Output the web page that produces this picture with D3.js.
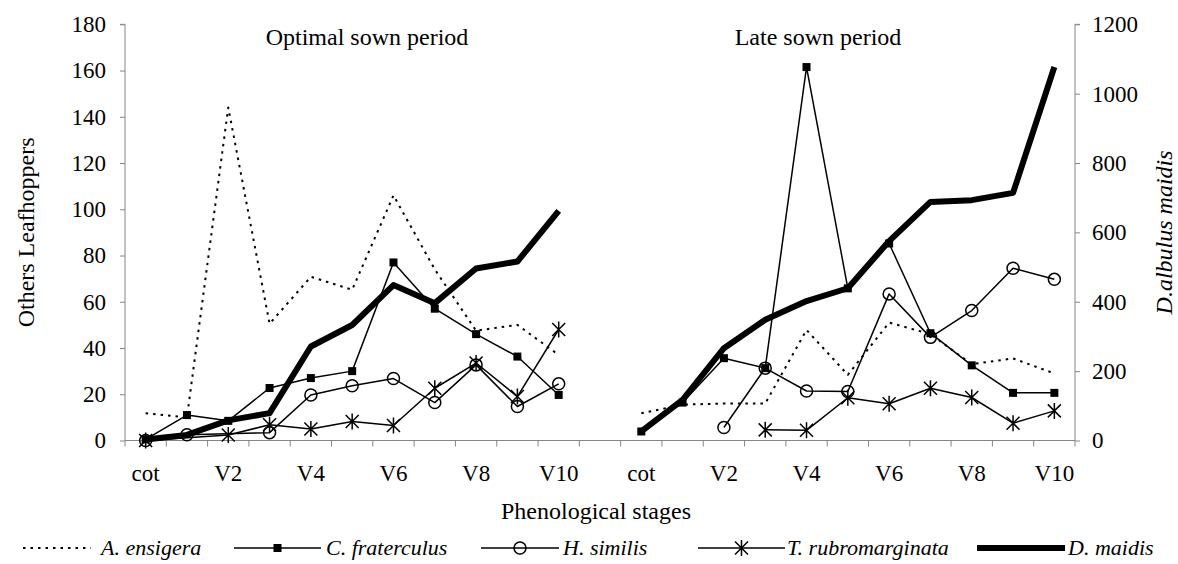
<!DOCTYPE html>
<html>
<head>
<meta charset="utf-8">
<script src="https://cdn.jsdelivr.net/npm/d3@7"></script>
<style>
  body { margin: 0; background: #fff; }
  svg text { font-family: "Liberation Serif", "Times New Roman", serif; fill: #000; }
</style>
</head>
<body>
<div id="chart"></div>
<script>
// phenological stages, same for both sowing periods
var stages = ["cot", "V1", "V2", "V3", "V4", "V5", "V6", "V7", "V8", "V9", "V10"];
var leftTicks = [0, 20, 40, 60, 80, 100, 120, 140, 160, 180];
var rightTicks = [0, 200, 400, 600, 800, 1000, 1200];

// Optimal sown period (others on left axis, D. maidis on right axis)
var ensigeraOpt = [11.8, 10, 144, 50.5, 70.8, 65.2, 106, 74, 47.5, 50, 37];
var fraterculusOpt = [0.5, 11, 8.5, 22.7, 27, 30, 77, 57, 46, 36.3, 19.7];
var similisOpt = [0, 2.5, null, 3.4, 19.7, 23.7, 26.8, 16.4, 32.7, 14.7, 24.5];
var rubroOpt = [0, null, 2.4, 6.8, 5, 8.2, 6.5, 22.6, 33.5, 19, 48];
var maidisOpt = [3, 16, 58, 79, 271, 333, 448, 396, 496, 516, 662];

// Late sown period
var ensigeraLate = [11.8, 15.5, 16, 16, 47.8, 28.4, 51, 46, 33, 35.5, 29];
var fraterculusLate = [3.9, 16.4, 35.6, 31.3, 161.5, 65.8, 85.2, 46.4, 32.5, 20.6, 20.6];
var similisLate = [null, null, 5.6, 31.3, 21.4, 21.2, 63.4, 44.6, 56.2, 74.5, 69.7];
var rubroLate = [null, null, null, 4.6, 4.4, 18.5, 15.9, 22.6, 18.6, 7.5, 12.8];
var maidisLate = [26, 117, 266, 348, 402, 439, 575, 688, 693, 714, 1077];

var width = 1178, height = 564;
var margin = {top: 24.3, left: 125, right: 103, bottom: 123.5};

var keys = stages.map(function(s) { return "opt-" + s; })
  .concat(["gap"])
  .concat(stages.map(function(s) { return "late-" + s; }));

var x = d3.scaleBand().domain(keys).range([margin.left, width - margin.right]);
var yL = d3.scaleLinear().domain([0, 180]).range([height - margin.bottom, margin.top]);
var yR = d3.scaleLinear().domain([0, 1200]).range([height - margin.bottom, margin.top]);

var series = [
  {name: "A. ensigera", opt: ensigeraOpt, late: ensigeraLate, axis: "L", marker: null, width: 2, dash: "2.5,5"},
  {name: "C. fraterculus", opt: fraterculusOpt, late: fraterculusLate, axis: "L", marker: "square", width: 1.5},
  {name: "H. similis", opt: similisOpt, late: similisLate, axis: "L", marker: "circle", width: 1.5},
  {name: "T. rubromarginata", opt: rubroOpt, late: rubroLate, axis: "L", marker: "star", width: 1.5},
  {name: "D. maidis", opt: maidisOpt, late: maidisLate, axis: "R", marker: null, width: 6}
];

var svg = d3.select("#chart").append("svg")
  .attr("width", width)
  .attr("height", height);

var axisColor = "#868686";

// Left axis
var gL = svg.append("g")
  .attr("transform", "translate(" + margin.left + ",0)")
  .call(d3.axisLeft(yL).tickValues(leftTicks).tickSize(5).tickPadding(14).tickFormat(d3.format("d")));
// Right axis
var gR = svg.append("g")
  .attr("transform", "translate(" + (width - margin.right) + ",0)")
  .call(d3.axisRight(yR).tickValues(rightTicks).tickSize(5).tickPadding(12).tickFormat(d3.format("d")));

[gL, gR].forEach(function(g) {
  g.attr("font-family", null).attr("font-size", null);
  g.select(".domain").attr("stroke", axisColor).attr("d", function() {
    return "M0," + yL(0) + "V" + yL(180) + (g === gL ? "h-5" : "h5");
  });
  g.selectAll(".tick line").attr("stroke", axisColor);
  g.selectAll(".tick text").attr("font-size", 23);
});

// X axis: boundary ticks between stages, labels every other stage
var xg = svg.append("g");
xg.append("line")
  .attr("x1", x.range()[0]).attr("x2", x.range()[1])
  .attr("y1", yL(0)).attr("y2", yL(0))
  .attr("stroke", axisColor);
var bounds = keys.map(function(k) { return x(k); }).concat([x.range()[1]]);
xg.selectAll(".xt").data(bounds).enter().append("line")
  .attr("x1", function(d) { return d; }).attr("x2", function(d) { return d; })
  .attr("y1", yL(0)).attr("y2", yL(0) + 6)
  .attr("stroke", axisColor);
xg.selectAll(".xl").data(keys.filter(function(k, i) { return k !== "gap" && i % 2 === 0; }))
  .enter().append("text")
  .attr("x", function(d) { return x(d) + x.bandwidth() / 2; })
  .attr("y", 481)
  .attr("text-anchor", "middle")
  .attr("font-size", 23)
  .text(function(d) { return d.split("-")[1]; });

// Axis titles
svg.append("text")
  .attr("transform", "translate(26," + ((yL(0) + yL(180)) / 2) + ") rotate(-90)")
  .attr("text-anchor", "middle")
  .attr("dy", "0.35em")
  .attr("font-size", 24)
  .text("Others Leafhoppers");
svg.append("text")
  .attr("transform", "translate(1164," + ((yL(0) + yL(180)) / 2) + ") rotate(-90)")
  .attr("text-anchor", "middle")
  .attr("dy", "0.35em")
  .attr("font-size", 24)
  .attr("font-style", "italic")
  .text("D.albulus maidis");
svg.append("text")
  .attr("x", 596).attr("y", 519)
  .attr("text-anchor", "middle")
  .attr("font-size", 24)
  .text("Phenological stages");

// Period titles
svg.append("text").attr("x", 367).attr("y", 45)
  .attr("text-anchor", "middle").attr("font-size", 24).text("Optimal sown period");
svg.append("text").attr("x", 818).attr("y", 45)
  .attr("text-anchor", "middle").attr("font-size", 24).text("Late sown period");

function starPath(r) {
  return "M" + (-r) + "," + (-r) + "L" + r + "," + r +
    "M" + (-r) + "," + r + "L" + r + "," + (-r) +
    "M0," + (-r - 1.5) + "L0," + (r + 1.5);
}

function drawMarker(g, type, cx, cy) {
  if (type === "square") {
    g.append("rect").attr("x", cx - 4).attr("y", cy - 4)
      .attr("width", 8).attr("height", 8).attr("fill", "#000");
  } else if (type === "circle") {
    g.append("circle").attr("cx", cx).attr("cy", cy).attr("r", 6)
      .attr("fill", "none").attr("stroke", "#000").attr("stroke-width", 1.5);
  } else if (type === "star") {
    g.append("path").attr("transform", "translate(" + cx + "," + cy + ")")
      .attr("d", starPath(6.5)).attr("fill", "none")
      .attr("stroke", "#000").attr("stroke-width", 1.5);
  }
}

var plot = svg.append("g");
series.forEach(function(s) {
  var y = s.axis === "L" ? yL : yR;
  var line = d3.line()
    .x(function(d) { return x(d.k) + x.bandwidth() / 2; })
    .y(function(d) { return y(d.v); });
  ["opt", "late"].forEach(function(p) {
    var pts = s[p].map(function(v, i) { return {k: p + "-" + stages[i], v: v}; })
      .filter(function(d) { return d.v !== null; });
    plot.append("path")
      .attr("d", line(pts))
      .attr("fill", "none")
      .attr("stroke", "#000")
      .attr("stroke-width", s.width)
      .attr("stroke-linejoin", "round")
      .attr("stroke-dasharray", s.dash || null);
    if (s.marker) {
      pts.forEach(function(d) {
        drawMarker(plot, s.marker, x(d.k) + x.bandwidth() / 2, y(d.v));
      });
    }
  });
});

// Legend
var legendPos = [
  {x0: 23, x1: 91, tx: 101},
  {x0: 234, x1: 321, tx: 326},
  {x0: 481, x1: 559, tx: 563},
  {x0: 698, x1: 785, tx: 787},
  {x0: 977, x1: 1065, tx: 1068}
];
var ly = 548;
var lg = svg.append("g");
series.forEach(function(s, i) {
  var p = legendPos[i];
  lg.append("line")
    .attr("x1", p.x0).attr("x2", p.x1).attr("y1", ly).attr("y2", ly)
    .attr("stroke", "#000").attr("stroke-width", s.width)
    .attr("stroke-dasharray", s.dash || null);
  if (s.marker) drawMarker(lg, s.marker, (p.x0 + p.x1) / 2, ly);
  lg.append("text")
    .attr("x", p.tx).attr("y", ly + 7)
    .attr("font-size", 22)
    .attr("font-style", "italic")
    .text(s.name);
});
</script>
</body>
</html>
